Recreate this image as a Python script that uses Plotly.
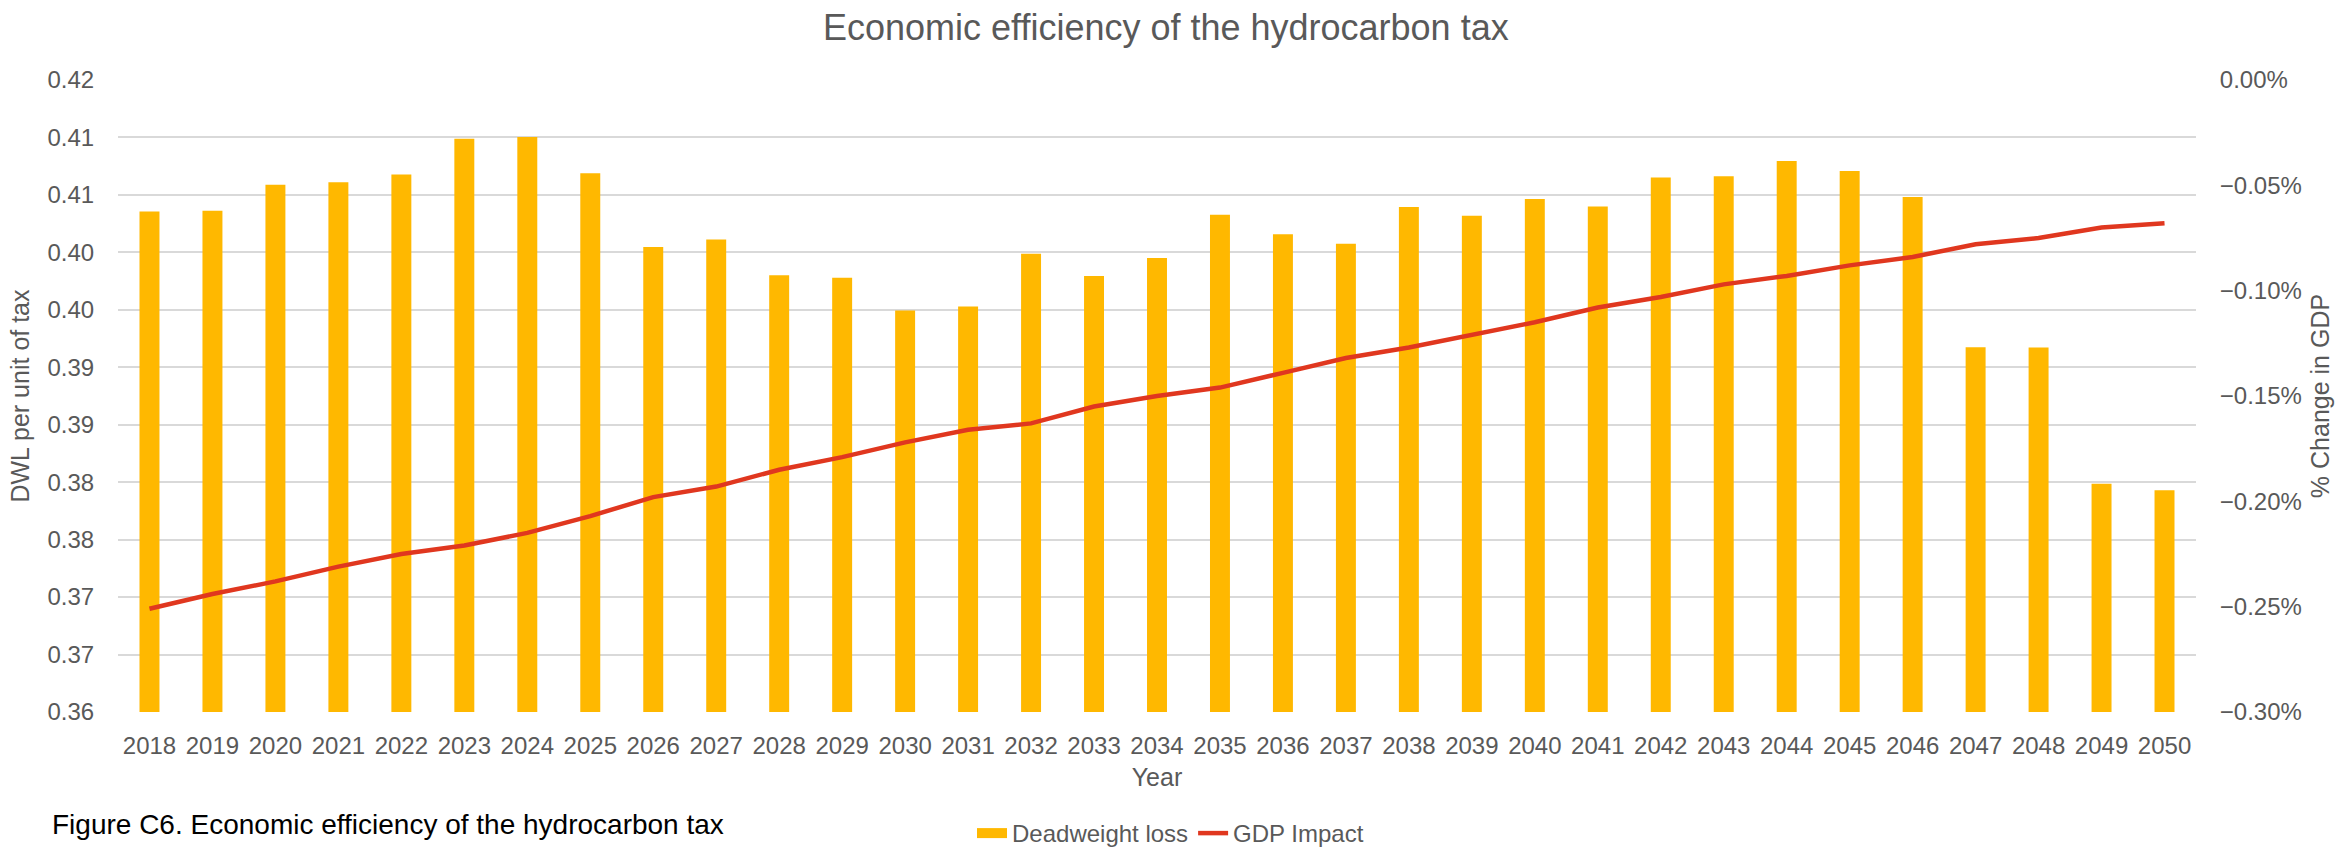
import plotly.graph_objects as go

years = [str(y) for y in range(2018, 2051)]

deadweight_loss = [
    0.40356, 0.40362, 0.40588, 0.40611, 0.40678, 0.40988, 0.41005, 0.40689,
    0.40047, 0.40113, 0.39801, 0.39780, 0.39494, 0.39528, 0.39989, 0.39795,
    0.39951, 0.40327, 0.40157, 0.40076, 0.40394, 0.40319, 0.40464, 0.40400,
    0.40652, 0.40663, 0.40796, 0.40707, 0.40481, 0.39175, 0.39172, 0.37986,
    0.37930,
]

gdp_impact = [
    -0.00251, -0.00244, -0.00238, -0.00231, -0.00225, -0.00221, -0.00215, -0.00207,
    -0.00198, -0.00193, -0.00185, -0.00179, -0.00172, -0.00166, -0.00163, -0.00155,
    -0.00150, -0.00146, -0.00139, -0.00132, -0.00127, -0.00121, -0.00115, -0.00108,
    -0.00103, -0.00097, -0.00093, -0.00088, -0.00084, -0.00078, -0.00075, -0.00070,
    -0.00068,
]

left_tickvals = [0.360, 0.365, 0.370, 0.375, 0.380, 0.385, 0.390, 0.395,
                 0.400, 0.405, 0.410, 0.415]
left_ticktext = ["0.36", "0.37", "0.37", "0.38", "0.38", "0.39", "0.39", "0.40",
                 "0.40", "0.41", "0.41", "0.42"]

GRAY = "#595959"
BAR_COLOR = "#FFB800"
LINE_COLOR = "#E0371F"
FONT = "Liberation Sans, Arial, sans-serif"

fig = go.Figure()
fig.add_trace(go.Bar(
    x=years, y=deadweight_loss, name="Deadweight loss",
    marker=dict(color=BAR_COLOR, line=dict(width=0)),
    showlegend=False, legendgroup="dwl",
))
# legend entry for the bars, drawn as a wide swatch like the original
fig.add_trace(go.Scatter(
    x=[None], y=[None], name="Deadweight loss", mode="lines",
    line=dict(color=BAR_COLOR, width=12), legendgroup="dwl",
    hoverinfo="skip",
))
fig.add_trace(go.Scatter(
    x=years, y=gdp_impact, name="GDP Impact", yaxis="y2",
    mode="lines", line=dict(color=LINE_COLOR, width=4.5),
))

fig.update_layout(
    width=2341, height=858,
    margin=dict(l=118, r=142, t=80, b=146),
    paper_bgcolor="white", plot_bgcolor="white",
    font=dict(family=FONT, color=GRAY, size=24),
    bargap=0.683,
    title=dict(text="Economic efficiency of the hydrocarbon tax",
               x=0.498, xanchor="center", xref="container",
               y=1 - 27 / 858, yanchor="middle", yref="container",
               font=dict(size=36, color=GRAY, family=FONT)),
    xaxis=dict(
        type="category", showgrid=False, zeroline=False,
        showline=False,
        ticks="outside", ticklen=12, tickcolor="rgba(0,0,0,0)",
        tickfont=dict(size=24, color=GRAY),
        title=dict(text="Year", font=dict(size=25, color=GRAY), standoff=10),
    ),
    yaxis=dict(
        range=[0.36, 0.415], tickmode="array",
        tickvals=left_tickvals, ticktext=left_ticktext,
        showgrid=True, gridcolor="#D9D9D9", gridwidth=2,
        zeroline=False, showline=False,
        ticks="outside", ticklen=18, tickcolor="rgba(0,0,0,0)",
        tickfont=dict(size=24, color=GRAY),
        title=dict(text="DWL per unit of tax", font=dict(size=25, color=GRAY), standoff=10),
    ),
    yaxis2=dict(
        overlaying="y", side="right",
        range=[-0.003, 0.0], dtick=0.0005, tick0=0, tickformat=".2%",
        showgrid=False, zeroline=False, showline=False,
        ticks="outside", ticklen=18, tickcolor="rgba(0,0,0,0)",
        tickfont=dict(size=24, color=GRAY),
        title=dict(text="% Change in GDP", font=dict(size=25, color=GRAY), standoff=10),
    ),
    legend=dict(
        orientation="h", xref="container", yref="container",
        x=0.5, xanchor="center", y=2 / 858, yanchor="bottom",
        font=dict(size=24, color=GRAY), bgcolor="rgba(0,0,0,0)",
        traceorder="normal", tracegroupgap=0,
    ),
    showlegend=True,
)

fig.add_annotation(
    text="Figure C6. Economic efficiency of the hydrocarbon tax",
    xref="paper", yref="paper",
    x=(49.5 - 118) / 2081, xanchor="left",
    y=(712 - 824) / 632, yanchor="middle",
    showarrow=False, font=dict(size=28, color="black", family=FONT),
)

fig.write_html("out.html")
